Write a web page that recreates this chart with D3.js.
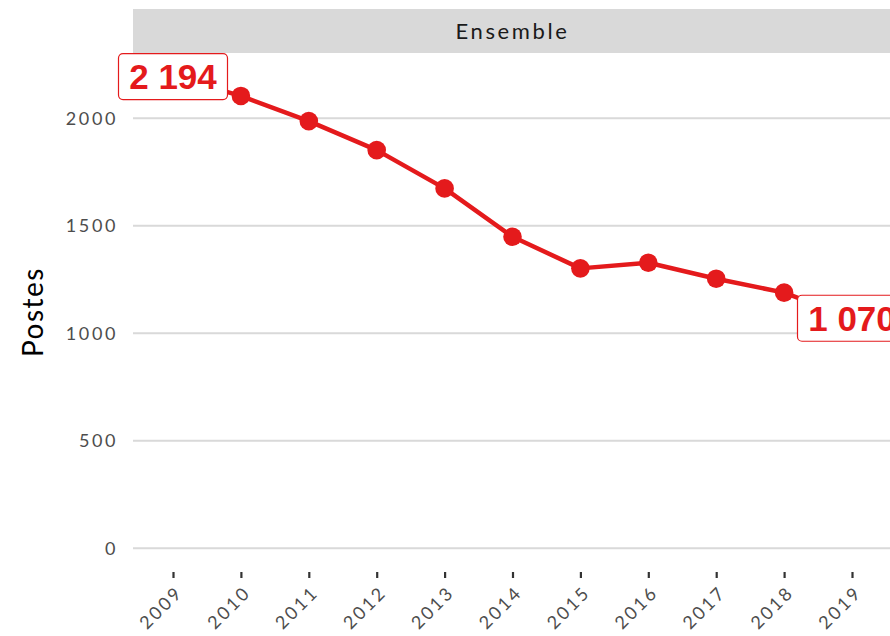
<!DOCTYPE html>
<html><head><meta charset="utf-8">
<script src="https://cdn.jsdelivr.net/npm/d3@7"></script>
<style>
html,body{margin:0;padding:0;background:#fff;}
svg{display:block;}
</style></head>
<body>
<svg id="chart" width="890" height="636"></svg>
<script>
const years = [2009,2010,2011,2012,2013,2014,2015,2016,2017,2018,2019];
const postes = [2194,2104,1987,1852,1674,1449,1302,1328,1254,1189,1070];
const yTicks = [0,500,1000,1500,2000];
const facetLabel = "Ensemble";
const yTitle = "Postes";
const red = "#E41A1C";
const tickFont = "Lato, 'Noto Sans', sans-serif";

const svg = d3.select("#chart");
const panel = {left:133, right:892, top:53, bottom:572};

const x = d3.scaleLinear().domain([2009,2019]).range([173,852]);
const y = d3.scaleLinear().domain([0,2000]).range([548.3,118.3]);

// strip
svg.append("rect").attr("x",panel.left).attr("y",9).attr("width",panel.right-panel.left).attr("height",44).attr("fill","#d9d9d9");
svg.append("text").attr("x",(panel.left+panel.right)/2).attr("y",31).attr("dy","0.35em")
  .attr("text-anchor","middle").attr("fill","#1a1a1a")
  .style("font-family",tickFont).style("font-size","22px").style("letter-spacing","2.6px")
  .text(facetLabel);

// grid
svg.append("g").selectAll("line").data(yTicks).join("line")
  .attr("x1",panel.left).attr("x2",panel.right)
  .attr("y1",d=>y(d)).attr("y2",d=>y(d))
  .attr("stroke","#d9d9d9").attr("stroke-width",2);

// y axis
const yAxis = svg.append("g").attr("transform",`translate(${panel.left},0)`)
  .call(d3.axisLeft(y).tickValues(yTicks).tickSize(0).tickPadding(15).tickFormat(d3.format("d")));
yAxis.select(".domain").remove();
yAxis.selectAll("text").attr("fill","#4d4d4d")
  .style("font-family",tickFont).style("font-size","18px").style("letter-spacing","2.6px");

// x axis
const xAxis = svg.append("g").attr("transform",`translate(0,${panel.bottom})`)
  .call(d3.axisBottom(x).tickValues(years).tickSize(6).tickPadding(4).tickFormat(d3.format("d")));
xAxis.select(".domain").remove();
xAxis.selectAll(".tick line").attr("stroke","#333").attr("stroke-width",2.2);
xAxis.selectAll("text").attr("fill","#4d4d4d")
  .style("font-family",tickFont).style("font-size","18px").style("letter-spacing","2.6px")
  .attr("text-anchor","end").attr("x",0).attr("y",0).attr("dy","0.35em")
  .attr("transform","translate(6,17) rotate(-45)");

// y title
svg.append("text").attr("transform","translate(43,312) rotate(-90)")
  .attr("text-anchor","middle").attr("fill","#000")
  .style("font-family",tickFont).style("font-size","28px").style("letter-spacing","1.5px")
  .text(yTitle);

// line + points
const data = years.map((yr,i)=>({year:yr, value:postes[i]}));
svg.append("path").datum(data)
  .attr("fill","none").attr("stroke",red).attr("stroke-width",4.5).attr("stroke-linejoin","round")
  .attr("d", d3.line().x(d=>x(d.year)).y(d=>y(d.value)));
svg.append("g").selectAll("circle").data(data).join("circle")
  .attr("cx",d=>x(d.year)).attr("cy",d=>y(d.value)).attr("r",9.3).attr("fill",red);

// labels for first and last
const fmt = v => d3.format(",")(v).replace(/,/g," ");
const labelled = [data[0], data[data.length-1]];
const lg = svg.append("g").selectAll("g").data(labelled).join("g")
  .attr("transform",d=>`translate(${x(d.year)},${y(d.value)})`);
lg.append("rect").attr("x",-54.5).attr("y",-23).attr("width",109).attr("height",46).attr("rx",4.5)
  .attr("fill","#fff").attr("stroke",red).attr("stroke-width",1.2);
lg.append("text").attr("text-anchor","middle").attr("dy","0.36em").attr("fill",red)
  .style("font-family","'Liberation Sans', Arial, sans-serif").style("font-weight","bold").style("font-size","35px")
  .text(d=>fmt(d.value));
</script>
</body></html>
